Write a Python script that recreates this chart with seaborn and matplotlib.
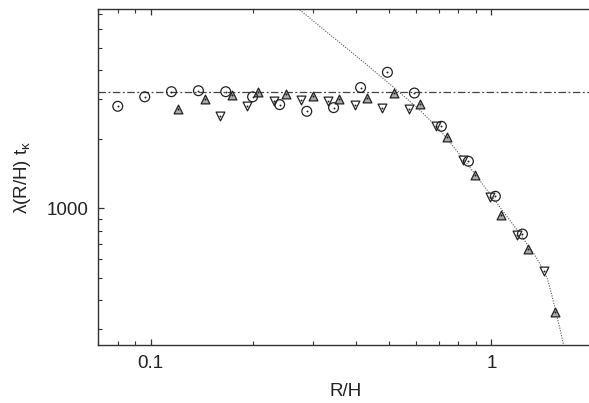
import matplotlib
matplotlib.use("Agg")
import matplotlib.pyplot as plt
import matplotlib.ticker as mticker
import seaborn as sns
import pandas as pd

# ---- data ----
circ_x = [0.080, 0.096, 0.115, 0.138, 0.166, 0.199, 0.239, 0.287, 0.344, 0.413,
          0.495, 0.594, 0.713, 0.856, 1.027, 1.233]
circ_y = [2777, 3053, 3214, 3246, 3214, 3053, 2824, 2641, 2740, 3351,
          3903, 3171, 2273, 1601, 1128, 773]

up_x = [0.120, 0.144, 0.173, 0.207, 0.249, 0.299, 0.358, 0.430, 0.516, 0.619,
        0.743, 0.892, 1.070, 1.284, 1.541]
up_y = [2713, 2981, 3115, 3191, 3127, 3063, 2981, 3023, 3171, 2855,
        2048, 1400, 932, 667, 355]

down_x = [0.160, 0.192, 0.230, 0.276, 0.332, 0.398, 0.478, 0.573, 0.688, 0.826,
          0.991, 1.189, 1.427]
down_y = [2527, 2777, 2922, 2972, 2922, 2824, 2740, 2694, 2280, 1622,
          1123, 765, 534]

plateau = 3200

curve_x = [0.2594, 0.2719, 0.3353, 0.4107, 0.5029, 0.6161, 0.7054, 0.8406,
           1.0088, 1.211, 1.340, 1.433, 1.463, 1.493, 1.544, 1.587, 1.623, 1.652]
curve_y = [7785, 7354, 5698, 4459, 3471, 2676, 2190, 1590,
           1114, 777, 627, 528, 488, 437, 358, 302, 260, 223]

xticks = [0.1, 1]
yticks = [1000]

# ---- figure ----
sns.set_style("ticks")
plt.rcParams["font.family"] = ["Liberation Sans", "DejaVu Sans"]
plt.rcParams["mathtext.default"] = "regular"

fig = plt.figure(figsize=(5.89, 4.03), dpi=100)
ax = fig.add_axes([98 / 589, 1 - 345 / 403, (594 - 98) / 589, (345 - 9) / 403])

ax.set_xscale("log")
ax.set_yscale("log")

curve = pd.DataFrame({"x": curve_x, "y": curve_y})
sns.lineplot(data=curve, x="x", y="y", ax=ax, color="#555555", lw=0.8,
             linestyle=(0, (1, 1.3)), sort=False, zorder=2)
ax.axhline(plateau, color="#444444", lw=0.9, linestyle=(0, (6, 2, 1.5, 2)), zorder=2)

down = pd.DataFrame({"x": down_x, "y": down_y})
up = pd.DataFrame({"x": up_x, "y": up_y})
circ = pd.DataFrame({"x": circ_x, "y": circ_y})

sns.scatterplot(data=down, x="x", y="y", ax=ax, marker="v", s=40,
                facecolor="white", edgecolor="#222222", linewidth=0.9, zorder=3)
sns.scatterplot(data=up, x="x", y="y", ax=ax, marker="^", s=40,
                facecolor="#aaaaaa", edgecolor="#222222", linewidth=0.9, zorder=3)
sns.scatterplot(data=circ, x="x", y="y", ax=ax, marker="o", s=50,
                facecolor="none", edgecolor="#222222", linewidth=0.9, zorder=4)
for d in (down, up, circ):
    sns.scatterplot(data=d, x="x", y="y", ax=ax, marker="o", s=2,
                    color="#222222", linewidth=0, zorder=5)

ax.set_xlim(0.07, 2.0)
ax.set_ylim(254.5, 7355)

ax.set_xticks(xticks)
ax.set_yticks(yticks)
fmt = mticker.FuncFormatter(lambda v, p: f"{v:g}")
ax.xaxis.set_major_formatter(fmt)
ax.yaxis.set_major_formatter(fmt)
ax.xaxis.set_minor_formatter(mticker.NullFormatter())
ax.yaxis.set_minor_formatter(mticker.NullFormatter())

for sp in ax.spines.values():
    sp.set_visible(True)
    sp.set_color("#333333")
    sp.set_linewidth(1.0)

ax.tick_params(which="both", direction="in", top=True, right=False,
               color="#333333", labelsize=13.5, labelcolor="#222222", pad=7)
ax.tick_params(which="major", length=4.5, width=0.9)
ax.tick_params(which="minor", length=3, width=0.8)

ax.set_xlabel("R/H", fontsize=13.5, color="#222222", labelpad=8)
ax.set_ylabel(r"λ(R/H) t$_κ$", fontsize=13.5, color="#222222", labelpad=10)

fig.savefig("out.png", dpi=100)
